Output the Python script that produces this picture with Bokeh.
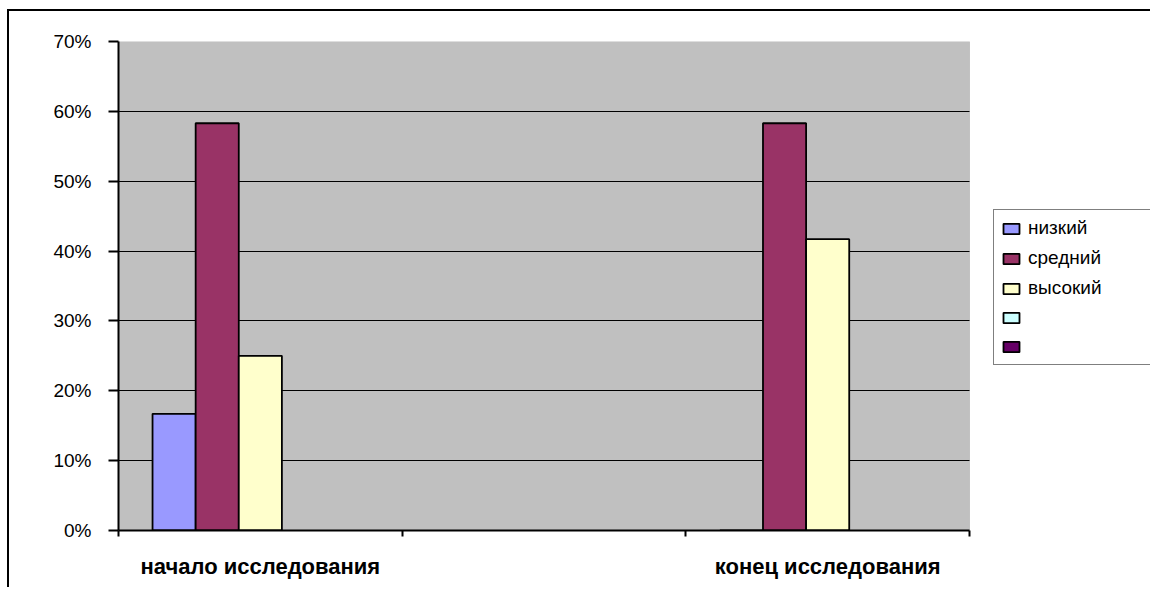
import numpy as np
from bokeh.plotting import figure
from bokeh.models import (Range1d, FixedTicker, NumeralTickFormatter, Legend, LegendItem,
                          BoxAnnotation)
from bokeh.embed import file_html
from bokeh.resources import INLINE

# ---- data ----
categories = ["начало исследования", "", "конец исследования"]
series_names = ["низкий", "средний", "высокий", " ", "  "]
low = [0.167, np.nan, 0.0]
mid = [0.583, np.nan, 0.583]
high = [0.25, np.nan, 0.417]
s4 = [np.nan, np.nan, np.nan]
s5 = [np.nan, np.nan, np.nan]
y_ticks = [0, 0.1, 0.2, 0.3, 0.4, 0.5, 0.6, 0.7]

series_values = [low, mid, high, s4, s5]
colors = ["#9999FF", "#993366", "#FFFFCC", "#CCFFFF", "#660066"]

FONT = "Liberation Sans"

# page offset of the chart border
OX, OY = 7, 9
CX, CY = OX + 2, OY + 2          # canvas origin on the page
ncat = len(categories)
# plot area spans 118..969 px; frame extends to 1150 px to host the legend
x_end = ncat * (1150 - 118) / (969 - 118)

p = figure(width=1152 - CX, height=589 - CY, output_backend="svg", toolbar_location=None,
           x_range=Range1d(0, x_end), y_range=Range1d(0, 0.7),
           min_border_left=118 - CX, min_border_right=2,
           min_border_top=41 - CY, min_border_bottom=589 - 530,
           background_fill_color="white", border_fill_color="white",
           outline_line_color=None)
p.margin = (OY, 0, 0, OX)
p.styles = {"border-top": "2px solid black", "border-left": "2px solid black"}

# grey plot area
plot_area = BoxAnnotation(left=0, right=ncat, bottom=y_ticks[0], top=y_ticks[-1],
                          fill_color="#C0C0C0", fill_alpha=1,
                          line_color="#808080", line_width=1, level="image")
p.add_layout(plot_area)

# bars
n = len(series_values)
w = 0.152
centers = np.arange(ncat) + 0.5
renderers = []
for i, (vals, col) in enumerate(zip(series_values, colors)):
    xs = centers + (i - (n - 1) / 2) * w
    r = p.vbar(x=xs, top=np.array(vals, dtype=float), bottom=0, width=w,
               fill_color=col, line_color="black", line_width=1.8)
    renderers.append(r)

# grid
p.xgrid.visible = False
p.ygrid.ticker = FixedTicker(ticks=y_ticks[1:-1])
p.ygrid.cross_bounds = (0, ncat)
p.ygrid.grid_line_color = "black"
p.ygrid.grid_line_width = 1

# y axis
ya = p.yaxis[0]
ya.ticker = FixedTicker(ticks=y_ticks)
ya.formatter = NumeralTickFormatter(format="0%")
ya.axis_line_color = "black"
ya.axis_line_width = 2
ya.major_tick_out = 10
ya.major_tick_in = 0
ya.major_tick_line_width = 2
ya.minor_tick_line_color = None
ya.major_label_standoff = 17
ya.major_label_text_font = FONT
ya.major_label_text_font_size = "19px"
ya.major_label_text_color = "black"

# x axis
xa = p.xaxis[0]
label_pos = [c for c, name in zip(centers, categories) if name]
xa.ticker = FixedTicker(ticks=label_pos, minor_ticks=list(range(ncat + 1)))
xa.major_label_overrides = {float(c): name for c, name in zip(centers, categories) if name}
xa.bounds = (0, ncat)
xa.axis_line_color = "black"
xa.axis_line_width = 2
xa.major_tick_line_color = None
xa.major_tick_out = 0
xa.major_tick_in = 0
xa.minor_tick_out = 6
xa.minor_tick_in = 0
xa.minor_tick_line_color = "black"
xa.minor_tick_line_width = 2
xa.major_label_standoff = 17
xa.major_label_text_font = FONT
xa.major_label_text_font_size = "22px"
xa.major_label_text_font_style = "bold"
xa.major_label_text_color = "black"

# legend
items = [LegendItem(label=name, renderers=[r]) for name, r in zip(series_names, renderers)]
legend = Legend(items=items, location=(993 - 118, 530 - 365),
                border_line_color="black", border_line_width=1,
                background_fill_color="white", background_fill_alpha=1,
                label_text_font=FONT, label_text_font_size="19px",
                label_text_color="black",
                glyph_width=20, glyph_height=13, label_standoff=7,
                label_height=21, label_width=115, spacing=8, padding=7, margin=0)
p.add_layout(legend, "center")

open("out.html", "w").write(file_html(p, INLINE))
